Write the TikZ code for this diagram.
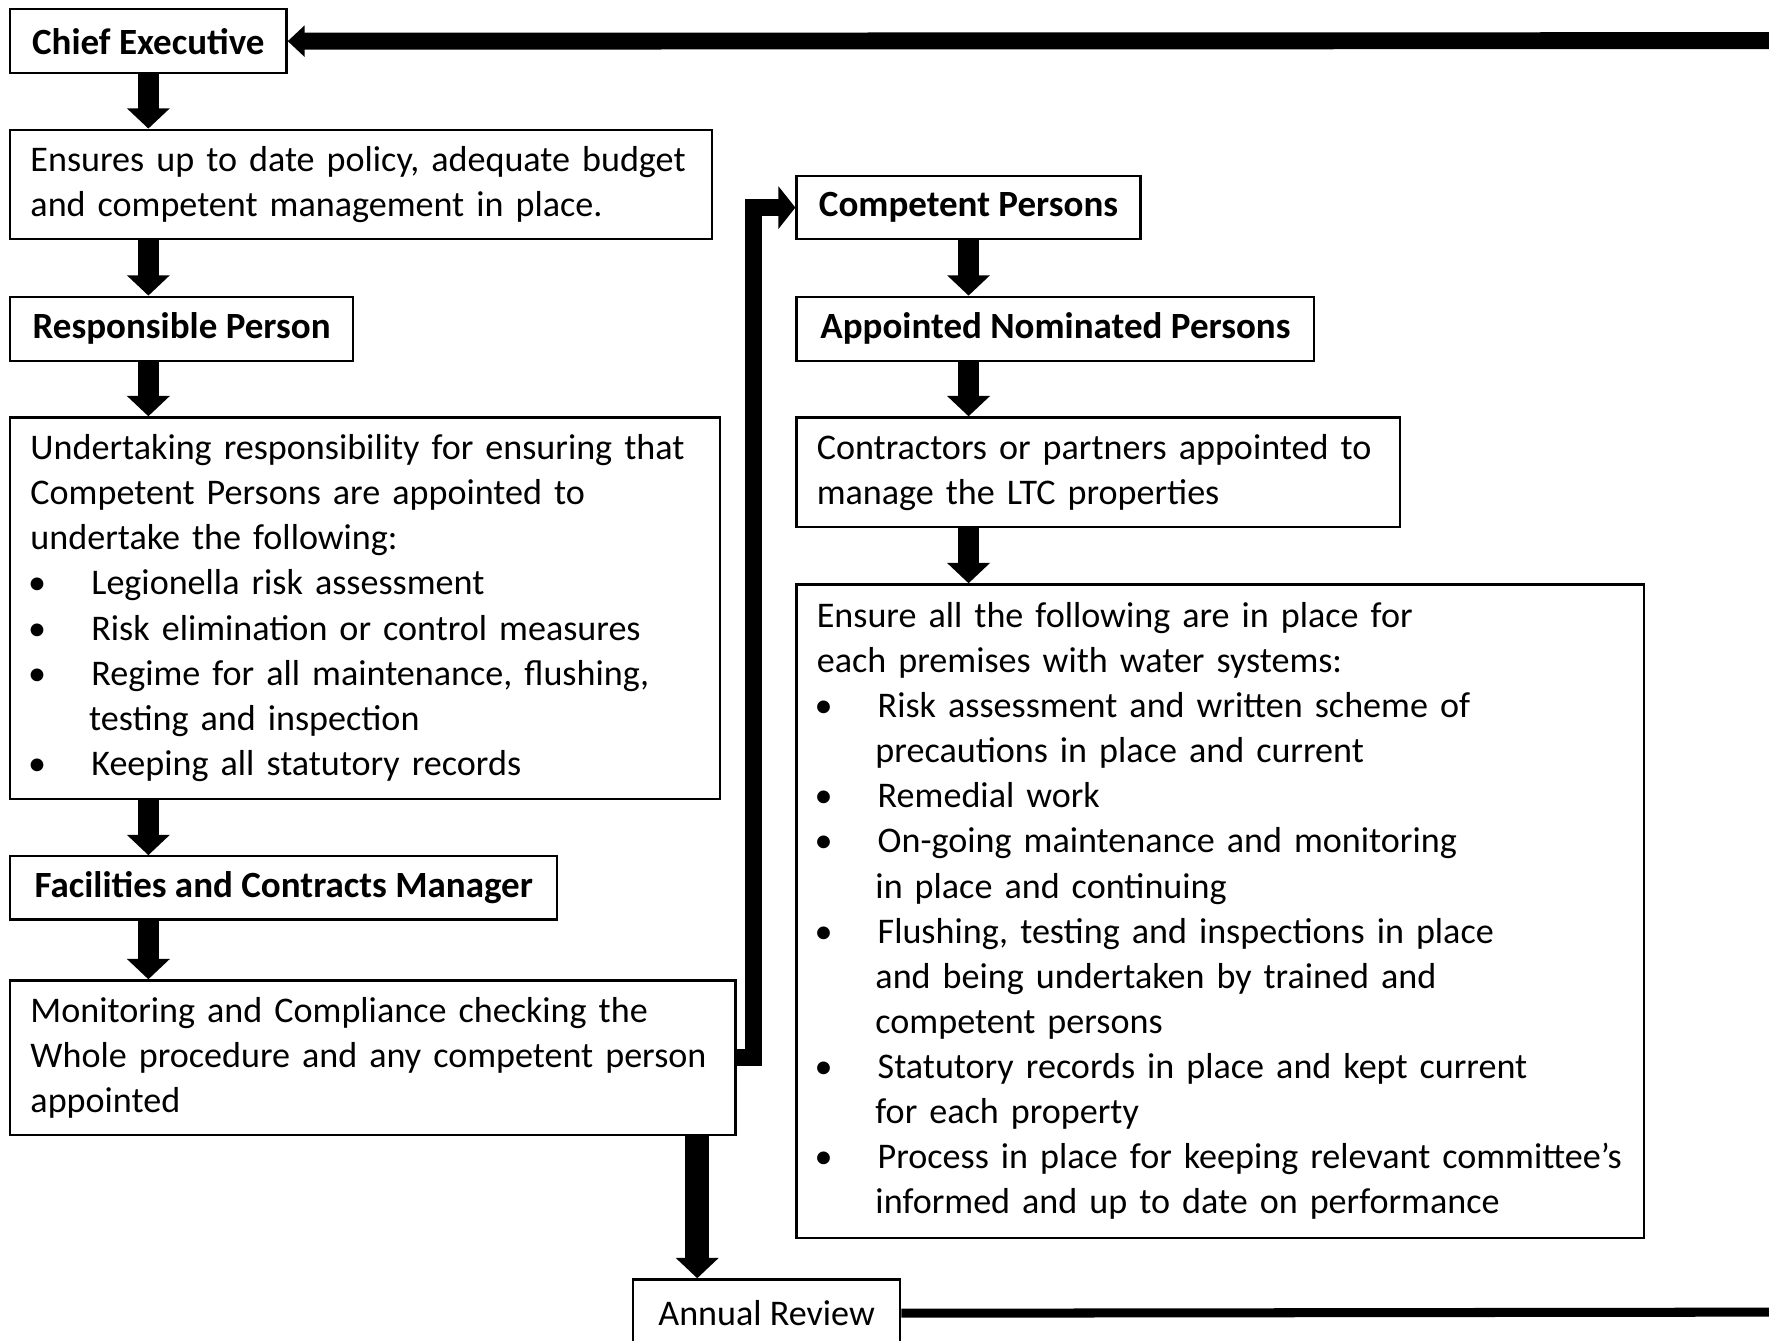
\documentclass[tikz,border=0pt]{standalone}
\usepackage{fontspec}
\setmainfont{Carlito}
\usetikzlibrary{arrows.meta}
\newcommand\bl[1]{\mbox{\makebox[27pt][l]{\hspace{-1pt}•}#1}}
\newcommand\cl[1]{\mbox{\hspace{26pt}#1}}
\tikzset{
  box/.style={draw=black, line width=1pt, rectangle, anchor=north west, inner xsep=9pt, inner ysep=0pt,
              font=\fontsize{16pt}{20pt}\selectfont},
  hd/.style={box, font=\fontsize{16.4pt}{20pt}\selectfont\bfseries},
  txt/.style={box, align=left},
  varr/.style={line width=9pt, -{Triangle[width=18.5pt,length=9pt]}},
  bigarr/.style={line width=10.5pt, -{Triangle[width=18.5pt,length=9pt]}},
  earr/.style={line width=7.5pt, -{Triangle[width=18.5pt,length=7.5pt]}},
  toparr/.style={line width=7.5pt, -{Triangle[width=13.5pt,length=7.5pt]}},
  botline/.style={line width=4pt}
}
\begin{document}
\begin{tikzpicture}[x=0.5pt,y=-0.5pt]
\useasboundingbox (0,0) rectangle (1568,1188);
\clip (0,0) rectangle (1568,1188);
% left column
\node[hd, minimum width=122.5pt, minimum height=28.5pt] (ce) at (8,7) {Chief Executive};
\node[txt, text width=293pt, minimum height=48.5pt] (ens) at (8,114)
  {\mbox{Ensures up to date policy, adequate budget}\\\mbox{and competent management in place.}};
\node[hd, minimum width=152pt, minimum height=28.5pt] (resp) at (8,262) {Responsible Person};
\node[txt, text width=296.5pt, minimum height=169pt] (und) at (8,369)
  {\mbox{Undertaking responsibility for ensuring that}\\
   \mbox{Competent Persons are appointed to}\\
   \mbox{undertake the following:}\\
   \bl{Legionella risk assessment}\\
   \bl{Risk elimination or control measures}\\
   \bl{Regime for all maintenance, flushing,}\\
   \cl{testing and inspection}\\
   \bl{Keeping all statutory records}};
\node[hd, minimum width=242.5pt, minimum height=28pt] (fac) at (8,758) {Facilities and Contracts Manager};
\node[txt, text width=303.5pt, minimum height=68.5pt] (mon) at (8,868)
  {\mbox{Monitoring and Compliance checking the}\\
   \mbox{Whole procedure and any competent person}\\
   \mbox{appointed}};
\node[box, minimum width=118.5pt, minimum height=30pt] (ann) at (560,1133) {Annual Review};
% right column
\node[hd, minimum width=152.5pt, minimum height=28pt] (cp) at (705,155) {Competent Persons};
\node[hd, minimum width=229.5pt, minimum height=28.5pt] (anp) at (705,262) {Appointed Nominated Persons};
\node[txt, text width=249.5pt, minimum height=48.5pt] (con) at (705,369)
  {\mbox{Contractors or partners appointed to}\\\mbox{manage the LTC properties}};
\node[txt, text width=357.5pt, minimum height=289.5pt] (all) at (705,517)
  {\mbox{Ensure all the following are in place for}\\
   \mbox{each premises with water systems:}\\
   \bl{Risk assessment and written scheme of}\\
   \cl{precautions in place and current}\\
   \bl{Remedial work}\\
   \bl{On-going maintenance and monitoring}\\
   \cl{in place and continuing}\\
   \bl{Flushing, testing and inspections in place}\\
   \cl{and being undertaken by trained and}\\
   \cl{competent persons}\\
   \bl{Statutory records in place and kept current}\\
   \cl{for each property}\\
   \bl{Process in place for keeping relevant committee’s}\\
   \cl{informed and up to date on performance}};
% helper coordinates
\coordinate (ax) at (618,0);
\coordinate (elb) at (668,0);
\coordinate (topR) at (1600,36);
\coordinate (botR) at (1600,1163);
% left column arrows
\draw[varr] (ce.south) -- (ens.north -| ce.south);
\draw[varr] (ens.south -| ce.south) -- (resp.north -| ce.south);
\draw[varr] (resp.south -| ce.south) -- (und.north -| ce.south);
\draw[varr] (und.south -| ce.south) -- (fac.north -| ce.south);
\draw[varr] (fac.south -| ce.south) -- (mon.north -| ce.south);
\draw[bigarr] (mon.south -| ax) -- (ann.north -| ax);
% right column arrows
\draw[varr] (cp.south) -- (anp.north -| cp.south);
\draw[varr] (anp.south -| cp.south) -- (con.north -| cp.south);
\draw[varr] (con.south -| cp.south) -- (all.north -| cp.south);
% elbow connector
\draw[earr, line join=miter] (mon.east) -- (mon.east -| elb) |- (cp.west);
% feedback lines
\draw[toparr] (topR) -- (ce.east);
\draw[botline] (ann.east) -- (botR);
\end{tikzpicture}
\end{document}
